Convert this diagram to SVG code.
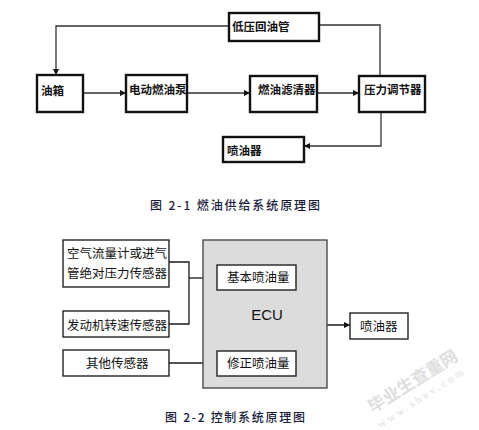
<svg xmlns="http://www.w3.org/2000/svg" width="479" height="430" viewBox="0 0 479 430">
<defs>
<style>
.bg{fill:#ffffff}
.tb{fill:#ffffff;stroke:#111;stroke-width:2.4}
.tt{font-family:"Noto Sans CJK SC",sans-serif;font-size:11.5px;font-weight:bold;fill:#111}
.tc{fill:none;stroke:#333;stroke-width:1.3}
.bb{fill:#ffffff;stroke:#222;stroke-width:1.4}
.bt{font-family:"Noto Sans CJK SC",sans-serif;font-size:12.5px;fill:#111}
.bc{fill:none;stroke:#1a1a1a;stroke-width:1.3}
.ecu{fill:#dcdcdc;stroke:#4a4a4a;stroke-width:1.4}
.cap{font-family:"Noto Sans CJK SC",sans-serif;font-size:12px;font-weight:500;fill:#1a1c3a}
.wm{font-family:"Noto Sans CJK SC",sans-serif;font-weight:bold;fill:#dedede}
.wm2{font-family:"Liberation Serif",serif;fill:#dedede}
</style>
<marker id="ah" viewBox="0 0 10 10" refX="10" refY="5" markerWidth="7" markerHeight="6" markerUnits="userSpaceOnUse" orient="auto">
<path d="M0,0 L10,5 L0,10 Z" fill="#111"/>
</marker>
</defs>
<rect class="bg" x="0" y="0" width="479" height="430"/>

<g id="connectors">
<path class="tc" d="M229,26 H56 V75" marker-end="url(#ah)"/>
<path class="tc" d="M319,25 H380 V76"/>
<path class="tc" d="M83,93 H126" marker-end="url(#ah)"/>
<path class="tc" d="M187,93 H250" marker-end="url(#ah)"/>
<path class="tc" d="M317,93 H359" marker-end="url(#ah)"/>
<path class="tc" d="M381,112 V146 H304" marker-end="url(#ah)"/>
<path class="bc" d="M169,262 H189 V324 H169"/>
<path class="bc" d="M189,278 H217" marker-end="url(#ah)"/>
<path class="bc" d="M169,363 H217" marker-end="url(#ah)"/>
<path class="bc" d="M296,277 H315 V374 H296"/>
<path class="bc" d="M315,325 H350" marker-end="url(#ah)"/>
</g>

<g id="low-return">
<rect class="tb" x="229" y="13" width="90" height="28"/>
<text class="tt" x="232" y="31">低压回油管</text>
</g>
<g id="tank">
<rect class="tb" x="37" y="75" width="46" height="37"/>
<text class="tt" x="41" y="95">油箱</text>
</g>
<g id="pump">
<rect class="tb" x="126" y="75" width="61" height="37"/>
<text class="tt" x="129" y="94">电动燃油泵</text>
</g>
<g id="filter">
<rect class="tb" x="250" y="76" width="67" height="36"/>
<text class="tt" x="258" y="94">燃油滤清器</text>
</g>
<g id="regulator">
<rect class="tb" x="359" y="76" width="66" height="36"/>
<text class="tt" x="364" y="94">压力调节器</text>
</g>
<g id="injector-top">
<rect class="tb" x="223" y="137" width="81" height="25"/>
<text class="tt" x="227" y="155">喷油器</text>
</g>

<text class="cap" x="150" y="210" textLength="170" lengthAdjust="spacing">图 2-1 燃油供给系统原理图</text>

<g id="sensor-air">
<rect class="bb" x="63" y="240" width="106" height="47"/>
<text class="bt" x="67" y="258">空气流量计或进气</text>
<text class="bt" x="67" y="278">管绝对压力传感器</text>
</g>
<g id="sensor-speed">
<rect class="bb" x="63" y="311" width="106" height="26"/>
<text class="bt" x="67" y="329.5">发动机转速传感器</text>
</g>
<g id="sensor-other">
<rect class="bb" x="63" y="350" width="106" height="26"/>
<text class="bt" x="86" y="368">其他传感器</text>
</g>
<g id="ecu">
<rect class="ecu" x="203" y="240" width="124" height="148"/>
<text x="267" y="319.5" text-anchor="middle" font-family="Liberation Sans, Arial, sans-serif" font-size="15" fill="#111">ECU</text>
</g>
<g id="basic">
<rect class="bb" x="217" y="265" width="79" height="25"/>
<text class="bt" x="227" y="282">基本喷油量</text>
</g>
<g id="correction">
<rect class="bb" x="217" y="351" width="79" height="25"/>
<text class="bt" x="227" y="368">修正喷油量</text>
</g>
<g id="injector-bottom">
<rect class="bb" x="350" y="313" width="58" height="26"/>
<text class="bt" x="360" y="331">喷油器</text>
</g>

<text class="cap" x="165" y="422" textLength="140" lengthAdjust="spacing">图 2-2 控制系统原理图</text>

<g id="watermark">
<text class="wm" font-size="17" transform="translate(412,380) rotate(-32)" text-anchor="middle" dominant-baseline="central">毕业生查重网</text>
<text class="wm2" font-size="11" transform="translate(420,398) rotate(-33)" text-anchor="middle" dominant-baseline="central" textLength="100" lengthAdjust="spacing">www.sbvv.com</text>
</g>
</svg>
